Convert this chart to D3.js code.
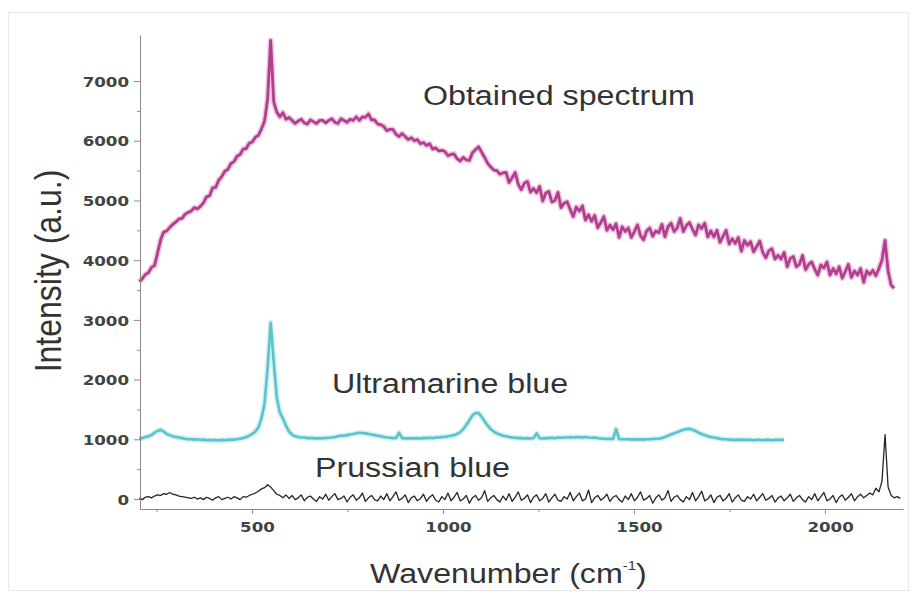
<!DOCTYPE html>
<html>
<head>
<meta charset="utf-8">
<script src="https://cdn.jsdelivr.net/npm/d3@7"></script>
<style>
  html, body { margin: 0; padding: 0; background: #fff; }
  svg { display: block; }
</style>
</head>
<body>
<div id="chart"></div>
<script>
// all three spectra are sampled on the same wavenumber grid (cm-1)
var wnStart = 205;
var wnStep = 8;

// obtained spectrum (a.u.)
var obtained = [
  3640,3690,3760,3790,3880,3910,4120,4340,4470,4490,
  4550,4600,4640,4690,4700,4770,4800,4820,4880,4860,
  4900,4960,5060,5080,5210,5220,5340,5400,5490,5520,
  5620,5650,5740,5770,5860,5870,5960,5980,6060,6090,
  6200,6330,6700,7680,6650,6480,6400,6470,6360,6390,
  6340,6290,6330,6360,6300,6280,6350,6320,6290,6340,
  6340,6300,6340,6370,6310,6290,6370,6340,6310,6360,
  6340,6400,6340,6400,6390,6450,6350,6350,6280,6270,
  6240,6170,6190,6190,6110,6070,6120,6070,6020,6050,
  6000,6020,5950,5970,5920,5950,5860,5880,5830,5840,
  5820,5750,5770,5780,5700,5660,5720,5680,5670,5800,
  5850,5900,5810,5720,5620,5560,5510,5500,5440,5460,
  5470,5300,5380,5470,5270,5180,5290,5320,5140,5200,
  5130,5235,4990,5125,5150,4975,5000,5135,4880,4955,
  4980,4850,4730,4890,4820,4910,4670,4760,4650,4750,
  4540,4630,4730,4500,4590,4510,4610,4380,4560,4480,
  4540,4380,4480,4590,4410,4340,4490,4540,4400,4490,
  4460,4600,4390,4560,4620,4480,4540,4700,4480,4580,
  4630,4520,4420,4590,4530,4620,4390,4490,4390,4500,
  4300,4400,4500,4270,4360,4280,4380,4150,4330,4250,
  4310,4140,4230,4320,4130,4040,4160,4190,4020,4080,
  4020,4130,3890,4030,4060,3890,3930,4080,3840,3930,
  3970,3850,3750,3920,3870,3970,3750,3860,3770,3890,
  3700,3810,3930,3710,3820,3750,3860,3630,3820,3760,
  3830,3740,3860,4000,4330,3820,3580,3530
];

// ultramarine blue reference spectrum
var ultramarine = [
  1010,1020,1040,1050,1070,1110,1140,1160,1130,1090,
  1070,1050,1040,1030,1020,1010,1000,1005,995,1000,
  990,995,985,990,985,990,980,990,985,990,
  990,995,1000,1010,1020,1040,1060,1090,1130,1200,
  1350,1600,2200,2950,2300,1700,1450,1350,1230,1130,
  1080,1050,1040,1030,1030,1020,1020,1020,1015,1015,
  1020,1020,1025,1030,1040,1050,1060,1060,1070,1080,
  1090,1100,1110,1105,1100,1090,1080,1070,1060,1050,
  1040,1030,1025,1020,1020,1110,1020,1015,1015,1015,
  1015,1020,1015,1020,1020,1025,1020,1030,1030,1040,
  1040,1050,1060,1070,1090,1120,1170,1240,1320,1400,
  1440,1440,1380,1300,1230,1170,1130,1100,1080,1060,
  1050,1040,1030,1025,1020,1020,1015,1020,1015,1020,
  1100,1020,1015,1020,1020,1025,1020,1030,1025,1030,
  1030,1035,1030,1040,1035,1030,1040,1030,1025,1030,
  1020,1015,1010,1005,1010,1005,1170,1005,1000,1000,
  1000,995,1000,995,1000,995,1000,1000,1005,1010,
  1010,1020,1040,1060,1080,1100,1120,1140,1160,1170,
  1175,1160,1140,1110,1090,1070,1050,1040,1030,1020,
  1010,1000,1000,995,990,990,990,995,990,990,
  990,985,990,990,985,990,990,985,990,990,
  990,990
];

// prussian blue reference spectrum
var prussian = [
  20,-10,30,40,20,50,70,60,90,80,
  110,80,70,50,40,30,20,10,30,0,
  20,-10,30,10,-20,20,40,-10,10,30,
  0,40,20,-10,40,30,60,80,100,130,
  170,190,240,200,140,80,60,20,70,10,
  60,-10,20,70,-30,30,50,0,-40,40,
  0,80,-20,40,90,-10,10,50,-50,30,
  70,-20,20,100,-40,20,60,-10,-30,50,
  -10,90,-30,40,120,-20,10,70,-60,20,
  50,-30,10,80,-40,30,70,-20,-50,40,
  -10,100,-30,30,110,-30,0,60,-70,20,
  60,-20,20,140,-40,20,60,-10,-50,50,
  -20,90,-40,30,120,-20,10,70,-60,30,
  70,-30,10,90,-50,20,80,-20,-40,40,
  0,110,-30,40,100,-30,0,150,-60,20,
  60,-20,20,80,-40,30,60,-10,-50,50,
  -10,90,-30,30,120,-20,10,60,-70,20,
  70,-20,20,140,-40,30,60,-10,-50,40,
  -10,110,-30,40,130,-30,0,70,-60,30,
  60,-30,10,90,-50,20,70,-20,-40,40,
  0,80,-30,30,90,-20,10,60,-50,20,
  50,-30,20,80,-40,20,60,-10,-50,40,
  -10,90,-30,40,110,-30,0,60,-60,30,
  70,-20,30,90,-30,40,80,20,60,100,
  70,180,120,300,1080,200,60,20,40,10
];

var xTicks = [500, 1000, 1500, 2000];
var xMinorTicks = [250, 750, 1250, 1750];
var yTicks = [0, 1000, 2000, 3000, 4000, 5000, 6000, 7000];
var yMinorTicks = [500, 1500, 2500, 3500, 4500, 5500, 6500];

var seriesLabels = ['Obtained spectrum', 'Ultramarine blue', 'Prussian blue'];
var xTitle = 'Wavenumber (cm';
var xTitleSup = '-1';
var yTitle = 'Intensity (a.u.)';

var width = 915;
var height = 601;
// the original picture is a bit stretched sideways, text too
var stretch = 1.15;

var svg = d3.select('#chart').append('svg')
            .attr('width', width)
            .attr('height', height);

svg.append('rect')
   .attr('width', width).attr('height', height)
   .attr('fill', '#fff');

// faint frame round the figure
svg.append('rect')
   .attr('x', 8.5).attr('y', 12.5)
   .attr('width', 900).attr('height', 578)
   .attr('fill', 'none')
   .attr('stroke', '#e8e8e8');

var x = d3.scaleLinear().domain([207, 2204]).range([140, 903]);
var y = d3.scaleLinear().domain([-167, 7771]).range([509, 35]);

var wn = function(i){ return wnStart + i*wnStep; };

var line = d3.line()
             .x(function(d, i){ return x(wn(i)); })
             .y(function(d){ return y(d); });

// halo first, then the core stroke, so the line looks as soft as the scan
var drawSeries = function(data, color, halo, w){
  if(halo){
    svg.append('path').datum(data)
       .attr('d', line)
       .attr('fill', 'none')
       .attr('stroke', halo)
       .attr('stroke-width', w + 3)
       .attr('stroke-linejoin', 'round')
       .attr('opacity', 0.6);
  }
  svg.append('path').datum(data)
     .attr('d', line)
     .attr('fill', 'none')
     .attr('stroke', color)
     .attr('stroke-width', w)
     .attr('stroke-linejoin', 'round');
};

drawSeries(obtained, '#b23f8e', '#e2a3cf', 2.8);
drawSeries(ultramarine, '#5bc3cb', '#b6e6ea', 2.6);
drawSeries(prussian, '#262626', null, 1.3);

// axes
var axisColor = '#8a8a8a';
var tickFont = '"DejaVu Sans", Verdana, sans-serif';
var fmt = d3.format('d');

var yAxis = svg.append('g')
               .attr('transform', 'translate(140,0)')
               .call(d3.axisLeft(y).tickValues(yTicks).tickFormat(fmt).tickSize(6).tickSizeOuter(0));
svg.append('g')
   .attr('transform', 'translate(140,0)')
   .call(d3.axisLeft(y).tickValues(yMinorTicks).tickSize(3).tickFormat(''))
   .select('.domain').remove();

var xAxis = svg.append('g')
               .attr('transform', 'translate(0,509)')
               .call(d3.axisBottom(x).tickValues(xTicks).tickFormat(fmt).tickSize(5).tickSizeOuter(0));
svg.append('g')
   .attr('transform', 'translate(0,509)')
   .call(d3.axisBottom(x).tickValues(xMinorTicks).tickSize(3).tickFormat(''))
   .select('.domain').remove();

svg.selectAll('.domain, .tick line').attr('stroke', axisColor);

yAxis.selectAll('text')
     .attr('x', -11/stretch)
     .attr('dy', '0.36em')
     .attr('transform', 'scale(' + stretch + ',1)')
     .attr('fill', '#444')
     .style('font-family', tickFont)
     .style('font-weight', 'bold')
     .style('font-size', '14.5px');

xAxis.selectAll('text')
     .attr('x', 5/stretch)
     .attr('y', 12.7)
     .attr('dy', '0.71em')
     .attr('transform', 'scale(' + stretch + ',1)')
     .attr('fill', '#444')
     .style('font-family', tickFont)
     .style('font-weight', 'bold')
     .style('font-size', '14.5px');

// stretched text helper, (tx,ty) is the start of the baseline
var labelFont = '"Liberation Sans", Arial, Helvetica, sans-serif';
var addText = function(tx, ty, str, size){
  return svg.append('g')
            .attr('transform', 'translate(' + tx + ',' + ty + ') scale(' + stretch + ',1)')
            .append('text')
            .attr('fill', '#333')
            .style('font-family', labelFont)
            .style('font-size', size + 'px')
            .text(str);
};

addText(423, 105, seriesLabels[0], 28);
addText(332, 393, seriesLabels[1], 28);
addText(315, 477, seriesLabels[2], 28);

var xt = addText(370, 583, xTitle, 28);
xt.append('tspan')
  .attr('dy', -13)
  .style('font-size', '13px')
  .text(xTitleSup);
xt.append('tspan')
  .attr('dy', 13)
  .text(')');

svg.append('g')
   .attr('transform', 'translate(61,271) scale(' + stretch + ',1) rotate(-90)')
   .append('text')
   .attr('text-anchor', 'middle')
   .attr('fill', '#333')
   .style('font-family', labelFont)
   .style('font-size', '32px')
   .text(yTitle);
</script>
</body>
</html>
